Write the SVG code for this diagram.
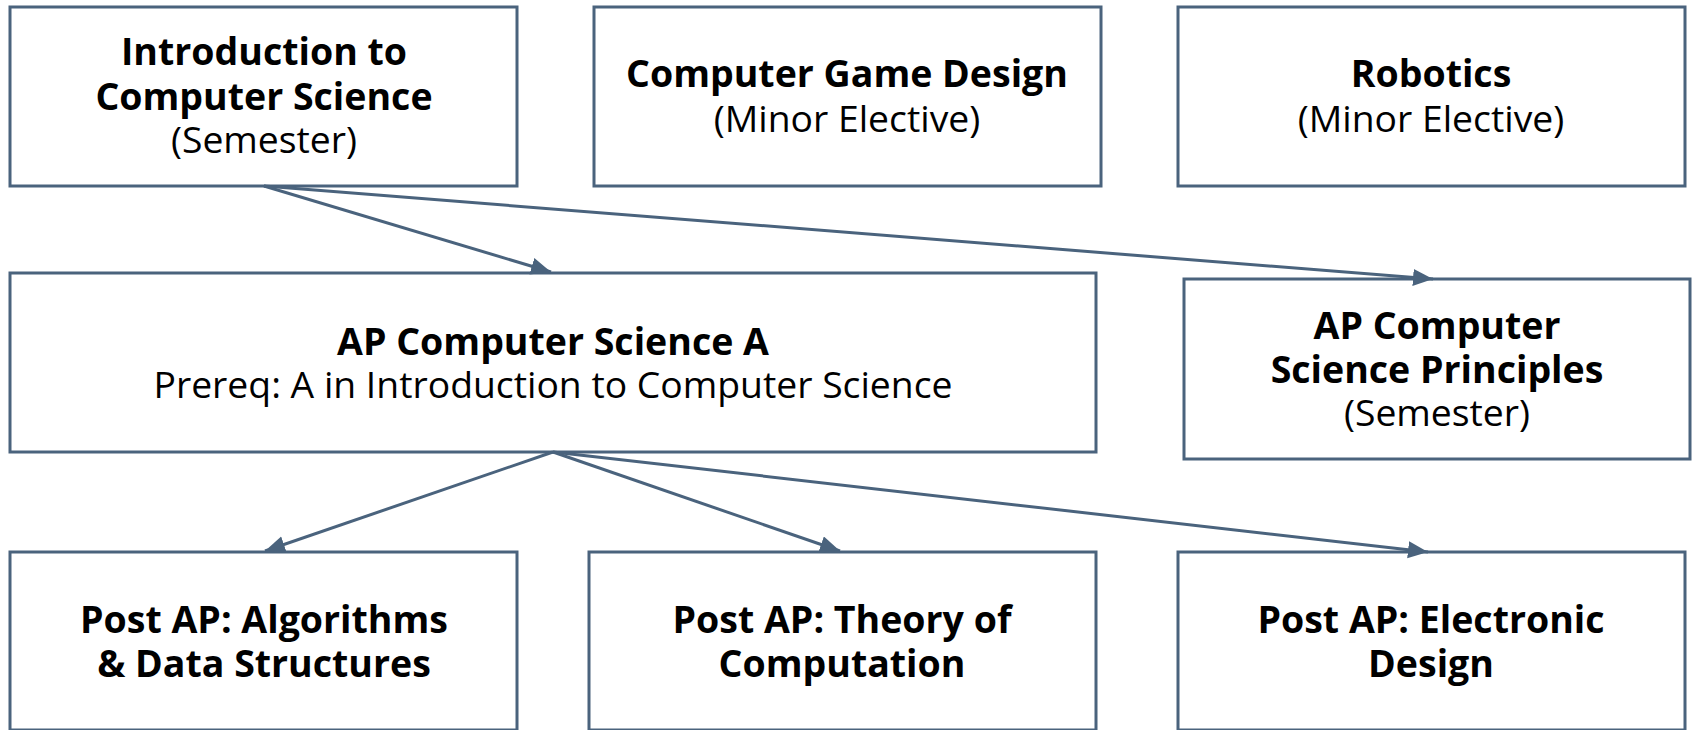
<svg xmlns="http://www.w3.org/2000/svg" width="1694" height="730" viewBox="0 0 1694 730">
  <style>
    .box { fill: #ffffff; stroke: #4a637d; stroke-width: 3; }
    .b { font-family: "Open Sans", "Noto Sans", "Liberation Sans", sans-serif; font-weight: 700; font-size: 37.5px; fill: #000; text-anchor: middle; }
    .r { font-family: "Open Sans", "Noto Sans", "Liberation Sans", sans-serif; font-weight: 400; font-size: 37.3px; fill: #000; text-anchor: middle; }
    .edge { fill: none; stroke: #4a637d; stroke-width: 3; marker-end: url(#arrow); }
  </style>
  <defs>
    <marker id="arrow" markerUnits="userSpaceOnUse" markerWidth="21" markerHeight="18" refX="20" refY="8.5" orient="auto">
      <path d="M0,0 L20,8.5 L0,17 z" fill="#4a637d"/>
    </marker>
  </defs>
  <rect width="1694" height="730" fill="#ffffff"/>

  <g id="intro">
    <rect class="box" x="10" y="7" width="507" height="179"/>
    <text class="b" x="264" y="65">Introduction to</text>
    <text class="b" x="264" y="110">Computer Science</text>
    <text class="r" x="264" y="153">(Semester)</text>
  </g>
  <g id="gamedesign">
    <rect class="box" x="594" y="7" width="507" height="179"/>
    <text class="b" x="847" y="87">Computer Game Design</text>
    <text class="r" x="847" y="132">(Minor Elective)</text>
  </g>
  <g id="robotics">
    <rect class="box" x="1178" y="7" width="507" height="179"/>
    <text class="b" x="1431" y="87">Robotics</text>
    <text class="r" x="1431" y="132">(Minor Elective)</text>
  </g>
  <g id="apcsa">
    <rect class="box" x="10" y="273" width="1086" height="179"/>
    <text class="b" x="553" y="355">AP Computer Science A</text>
    <text class="r" x="553" y="398">Prereq: A in Introduction to Computer Science</text>
  </g>
  <g id="apcsp">
    <rect class="box" x="1184" y="279" width="506" height="180"/>
    <text class="b" x="1437" y="339">AP Computer</text>
    <text class="b" x="1437" y="383">Science Principles</text>
    <text class="r" x="1437" y="426">(Semester)</text>
  </g>
  <g id="algorithms">
    <rect class="box" x="10" y="552" width="507" height="178"/>
    <text class="b" x="264" y="633">Post AP: Algorithms</text>
    <text class="b" x="264" y="677">&amp; Data Structures</text>
  </g>
  <g id="theory">
    <rect class="box" x="589" y="552" width="507" height="178"/>
    <text class="b" x="842" y="633">Post AP: Theory of</text>
    <text class="b" x="842" y="677">Computation</text>
  </g>
  <g id="electronic">
    <rect class="box" x="1178" y="552" width="507" height="178"/>
    <text class="b" x="1431" y="633">Post AP: Electronic</text>
    <text class="b" x="1431" y="677">Design</text>
  </g>

  <g id="connectors">
    <line class="edge" x1="264" y1="186" x2="551" y2="272"/>
    <line class="edge" x1="264" y1="186" x2="1433" y2="279"/>
    <line class="edge" x1="553" y1="452" x2="265" y2="551"/>
    <line class="edge" x1="553" y1="452" x2="840" y2="551"/>
    <line class="edge" x1="553" y1="452" x2="1428" y2="552"/>
  </g>
</svg>
